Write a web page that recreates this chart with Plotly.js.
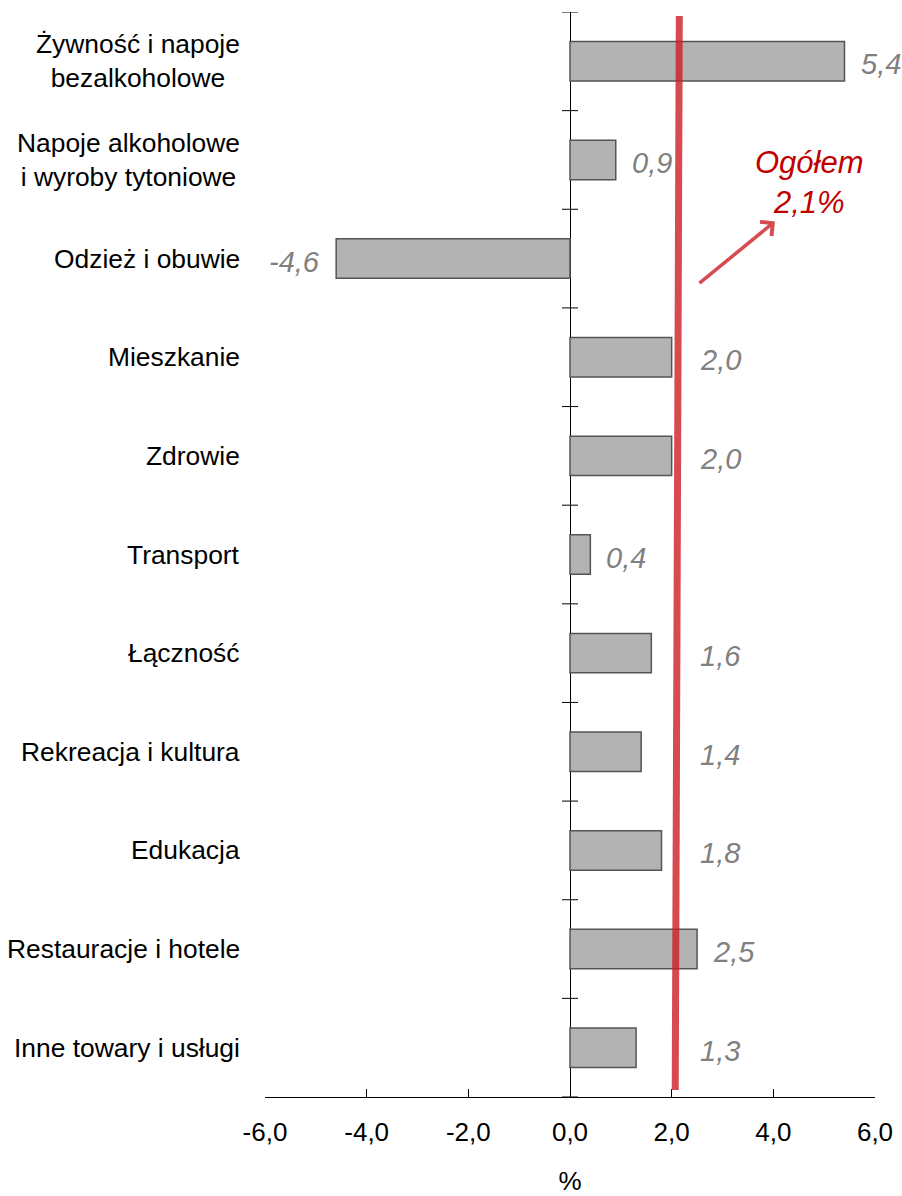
<!DOCTYPE html>
<html>
<head>
<meta charset="utf-8">
<script src="https://cdn.plot.ly/plotly-3.0.1.min.js"></script>
<style>html,body{margin:0;padding:0;background:#fff;}#chart{width:902px;height:1196px;}</style>
</head>
<body>
<div id="chart"></div>
<script>
// ---- data ----
const categories = [
  "Żywność i napoje<br>bezalkoholowe",
  "Napoje alkoholowe<br>i wyroby tytoniowe",
  "Odzież i obuwie",
  "Mieszkanie",
  "Zdrowie",
  "Transport",
  "Łączność",
  "Rekreacja i kultura",
  "Edukacja",
  "Restauracje i hotele",
  "Inne towary i usługi"
];
const values = [5.4, 0.9, -4.6, 2.0, 2.0, 0.4, 1.6, 1.4, 1.8, 2.5, 1.3];
const overall = 2.1;
const overallLabel = "Ogółem";
const xTickVals = [-6, -4, -2, 0, 2, 4, 6];
const xTickText = ["-6,0", "-4,0", "-2,0", "0,0", "2,0", "4,0", "6,0"];
const xTitle = "%";

// ---- helpers ----
const FONT = '"Liberation Sans", Arial, sans-serif';
const fmt = v => v.toFixed(1).replace('.', ',');
const idx = categories.map((_, i) => i);

// labels whose natural spot would collide with the overall line are moved right of it
function labelX(v) {
  if (v > 0 && v > overall - 1.2 && v < overall + 0.15) return overall + 0.15;
  return v;
}

const bar = {
  type: 'bar',
  orientation: 'h',
  y: idx,
  x: values,
  width: 0.4,
  marker: { color: '#b3b3b3', line: { color: '#555555', width: 1.5 } },
  hoverinfo: 'x+y',
  showlegend: false
};

const annotations = [];
// category labels (centered multi-line, right-aligned block)
categories.forEach((c, i) => {
  annotations.push({
    xref: 'paper', yref: 'y', x: 0, y: i, xanchor: 'right', yanchor: 'middle',
    xshift: -23, align: 'center', showarrow: false, text: c,
    font: { family: FONT, size: 26.4, color: '#000000' }
  });
});
// value labels
values.forEach((v, i) => {
  annotations.push({
    xref: 'x', yref: 'y', x: labelX(v), y: i,
    xanchor: v < 0 ? 'right' : 'left', yanchor: 'middle',
    xshift: v < 0 ? -14 : 14, yshift: -3, showarrow: false,
    text: '<i>' + fmt(v) + '</i>',
    font: { family: FONT, size: 29, color: '#808080' }
  });
});
// overall annotation text
annotations.push({
  xref: 'paper', yref: 'paper', x: 0.892, y: 0.843, xanchor: 'center', yanchor: 'middle',
  showarrow: false, align: 'center',
  text: '<i>' + overallLabel + '<br>' + fmt(overall) + '%</i>',
  font: { family: FONT, size: 31, color: '#c00000' }
});
// arrow
annotations.push({
  xref: 'paper', yref: 'paper', x: 0.836, y: 0.807, text: '',
  showarrow: true, arrowhead: 4, arrowsize: 1, arrowwidth: 3.5,
  arrowcolor: '#d64c50', ax: -77, ay: 63
});

const shapes = [];
// ticks crossing the zero line at category boundaries
for (let i = 0; i <= categories.length; i++) {
  shapes.push({
    type: 'line', xref: 'x', yref: 'y', xsizemode: 'pixel', xanchor: 0,
    x0: -8, x1: 8, y0: i - 0.5, y1: i - 0.5,
    line: { color: '#000000', width: 1 }
  });
}
// overall line
shapes.push({
  type: 'line', xref: 'x', yref: 'paper',
  x0: overall - 0.03, x1: overall + 0.05, y0: 0.0065, y1: 0.9963,
  line: { color: 'rgba(205,30,36,0.8)', width: 7 }
});

const layout = {
  width: 902, height: 1196,
  margin: { l: 265, r: 27, t: 12, b: 99 },
  paper_bgcolor: '#ffffff', plot_bgcolor: '#ffffff',
  font: { family: FONT, color: '#000000' },
  showlegend: false,
  xaxis: {
    range: [-6, 6], tickvals: xTickVals, ticktext: xTickText,
    ticks: 'inside', ticklen: 8, tickcolor: '#000000', tickwidth: 1,
    showline: true, linecolor: '#000000', linewidth: 1,
    showgrid: false, zeroline: true, zerolinecolor: '#000000', zerolinewidth: 1,
    tickfont: { family: FONT, size: 26, color: '#000000' },
    ticklabelstandoff: 12,
    title: { text: xTitle, font: { family: FONT, size: 26, color: '#000000' }, standoff: 34 },
    fixedrange: true
  },
  yaxis: {
    range: [categories.length - 0.5, -0.5],
    showticklabels: false, ticks: '', showgrid: false, zeroline: false, showline: false,
    fixedrange: true
  },
  annotations: annotations,
  shapes: shapes
};

Plotly.newPlot('chart', [bar], layout, { displayModeBar: false, staticPlot: true });
</script>
</body>
</html>
